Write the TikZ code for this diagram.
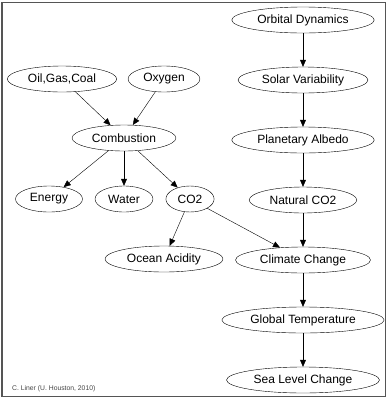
\documentclass[tikz,border=0pt]{standalone}
\usepackage{fontspec}
\setmainfont{Liberation Sans}
\usepackage{xcolor}
\usepackage{tikz}
\usetikzlibrary{arrows.meta,positioning,shapes.geometric}

\definecolor{framegray}{HTML}{555555}
\definecolor{creditgray}{HTML}{444444}

\begin{document}
\begin{tikzpicture}[
    x=1pt, y=1pt,
    font=\fontsize{12}{14}\selectfont,
    node distance=33.6pt and 20pt,
    cause/.style={draw, ellipse, line width=0.4pt, minimum height=26pt, inner xsep=4.7pt, inner ysep=2pt},
    arrow/.style={-{Triangle[length=7pt, width=6pt]}, line width=0.4pt}
]
\useasboundingbox (0,0) rectangle (387,-400);
\draw[framegray, line width=1pt] (2,-2) rectangle (385,-396.5);

% natural chain
\node[cause] (orbital) at (303,-20) {Orbital Dynamics};
\node[cause, below=of orbital] (solar) {Solar Variability};
\node[cause, below=of solar] (albedo) {Planetary Albedo};
\node[cause, below=of albedo] (natco2) {Natural CO2};
\node[cause, below=of natco2] (climate) {Climate Change};
\node[cause, below=of climate] (globtemp) {Global Temperature};
\node[cause, below=of globtemp] (sealevel) {Sea Level Change};

% burning fossil fuels
\node[cause] (fuel) at (62,-79) {Oil,Gas,Coal};
\node[cause] (oxygen) at (164,-79) {Oxygen};
\node[cause] (combust) at (124,-138) {Combustion};
\node[cause] (energy) at (49,-199) {Energy};
\node[cause] (water) at (124,-199) {Water};
\node[cause] (co2) at (190,-199) {CO2};
\node[cause] (ocean) at (164,-259) {Ocean Acidity};

\node[anchor=west, text=creditgray, font=\fontsize{6.8}{8}\selectfont, inner sep=0pt] (credit) at (12,-389) {C. Liner (U. Houston, 2010)};

\draw[arrow] (orbital) -- (solar);
\draw[arrow] (solar) -- (albedo);
\draw[arrow] (albedo) -- (natco2);
\draw[arrow] (natco2) -- (climate);
\draw[arrow] (climate) -- (globtemp);
\draw[arrow] (globtemp) -- (sealevel);
\draw[arrow] (fuel) -- (combust);
\draw[arrow] (oxygen) -- (combust);
\draw[arrow] (combust) -- (energy);
\draw[arrow] (combust) -- (water);
\draw[arrow] (combust) -- (co2);
\draw[arrow] (co2) -- (ocean);
\draw[arrow] (co2) -- (climate);
\end{tikzpicture}
\end{document}
